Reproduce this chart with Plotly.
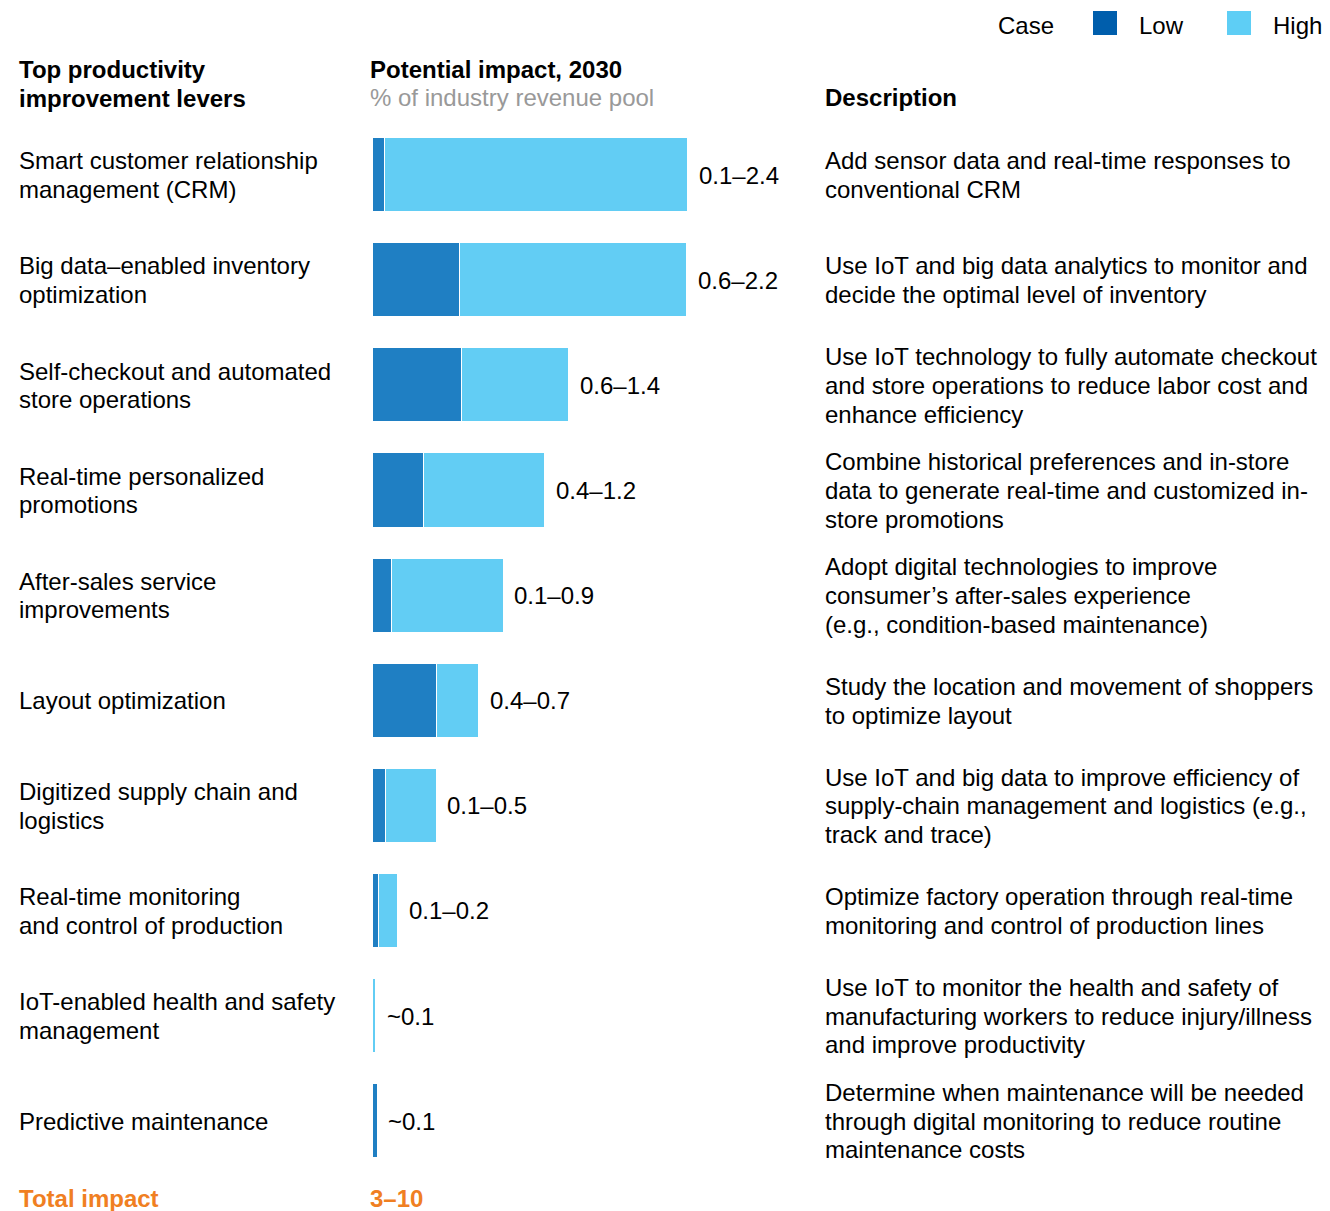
import plotly.graph_objects as go

W, H = 1330, 1211

levers = [
    "Smart customer relationship<br>management (CRM)",
    "Big data–enabled inventory<br>optimization",
    "Self-checkout and automated<br>store operations",
    "Real-time personalized<br>promotions",
    "After-sales service<br>improvements",
    "Layout optimization",
    "Digitized supply chain and<br>logistics",
    "Real-time monitoring<br>and control of production",
    "IoT-enabled health and safety<br>management",
    "Predictive maintenance",
]

# bar lengths as drawn (in % of revenue pool), low part and the extra up to high
low_bar = [0.095, 0.665, 0.678, 0.392, 0.149, 0.487, 0.099, 0.050, 0.0, 0.038]
high_bar = [2.306, 1.726, 0.817, 0.922, 0.849, 0.325, 0.388, 0.145, 0.030, 0.0]

range_labels = ["0.1–2.4", "0.6–2.2", "0.6–1.4", "0.4–1.2", "0.1–0.9",
                "0.4–0.7", "0.1–0.5", "0.1–0.2", "~0.1", "~0.1"]

descriptions = [
    "Add sensor data and real-time responses to<br>conventional CRM",
    "Use IoT and big data analytics to monitor and<br>decide the optimal level of inventory",
    "Use IoT technology to fully automate checkout<br>and store operations to reduce labor cost and<br>enhance efficiency",
    "Combine historical preferences and in-store<br>data to generate real-time and customized in-<br>store promotions",
    "Adopt digital technologies to improve<br>consumer’s after-sales experience<br>(e.g., condition-based maintenance)",
    "Study the location and movement of shoppers<br>to optimize layout",
    "Use IoT and big data to improve efficiency of<br>supply-chain management and logistics (e.g.,<br>track and trace)",
    "Optimize factory operation through real-time<br>monitoring and control of production lines",
    "Use IoT to monitor the health and safety of<br>manufacturing workers to reduce injury/illness<br>and improve productivity",
    "Determine when maintenance will be needed<br>through digital monitoring to reduce routine<br>maintenance costs",
]

total_label = "3–10"

DARK = "#1f7fc3"
LIGHT = "#62cdf4"
LEG_DARK = "#005eac"
LEG_LIGHT = "#5ecef5"
ORANGE = "#f07f22"
FONT = "Liberation Sans, Arial, sans-serif"
FS = 24
LINE = 28.7

# pixel geometry
X0, PX_PER_UNIT = 372.5, 131.6
Y0, ROW = 175.2, 105.1

rows = list(range(len(levers)))

fig = go.Figure()
fig.add_trace(go.Bar(y=rows, x=low_bar, orientation="h", name="Low",
                     marker=dict(color=DARK, line=dict(color="white", width=1.2)),
                     width=0.705, showlegend=False, hoverinfo="skip"))
fig.add_trace(go.Bar(y=rows, x=high_bar, orientation="h", name="High",
                     marker=dict(color=LIGHT, line=dict(color="white", width=1.2)),
                     width=0.705, showlegend=False, hoverinfo="skip"))


def px(p):
    return p / W


def py(p):
    return 1 - p / H


def multiline(text, x, y, xref, yref, color="black", bold=False):
    lines = text.split("<br>")
    m = len(lines)
    for k, line in enumerate(lines):
        t = f"<b>{line}</b>" if bold else line
        fig.add_annotation(text=t, x=x, y=y, xref=xref, yref=yref,
                           xanchor="left", yanchor="middle", showarrow=False,
                           yshift=-(k - (m - 1) / 2) * LINE,
                           font=dict(family=FONT, size=FS, color=color))


for i in rows:
    multiline(levers[i], px(17), i, "paper", "y")
    multiline(descriptions[i], px(823), i, "paper", "y")
    fig.add_annotation(text=range_labels[i], x=low_bar[i] + high_bar[i], y=i,
                       xref="x", yref="y", xanchor="left", yanchor="middle",
                       xshift=8.5, showarrow=False,
                       font=dict(family=FONT, size=FS, color="black"))

# headers
multiline("Top productivity<br>improvement levers", px(17), py(84), "paper", "paper", bold=True)
multiline("Potential impact, 2030", px(368), py(70), "paper", "paper", bold=True)
multiline("% of industry revenue pool", px(368), py(98), "paper", "paper", color="#999999")
multiline("Description", px(823), py(98), "paper", "paper", bold=True)

# total row
multiline("Total impact", px(17), py(1198), "paper", "paper", color=ORANGE, bold=True)
multiline(total_label, px(368), py(1198), "paper", "paper", color=ORANGE, bold=True)

# legend
multiline("Case", px(996), py(25), "paper", "paper")
for x0, col, lab, tx in [(1093, LEG_DARK, "Low", 1137), (1227, LEG_LIGHT, "High", 1271)]:
    fig.add_shape(type="rect", xref="paper", yref="paper",
                  x0=px(x0), x1=px(x0 + 24), y0=py(11), y1=py(35),
                  fillcolor=col, line=dict(width=0))
    multiline(lab, px(tx), py(25), "paper", "paper")

fig.update_layout(
    width=W, height=H,
    barmode="stack",
    bargap=0,
    margin=dict(l=0, r=0, t=0, b=0),
    paper_bgcolor="white",
    plot_bgcolor="white",
    xaxis=dict(range=[-X0 / PX_PER_UNIT, (W - X0) / PX_PER_UNIT], visible=False, fixedrange=True),
    yaxis=dict(range=[(H - Y0) / ROW, -Y0 / ROW], visible=False, fixedrange=True),
    font=dict(family=FONT, size=FS, color="black"),
)

fig.write_html("out.html", config={"displayModeBar": False},
               post_script="document.body.style.margin='0';")
